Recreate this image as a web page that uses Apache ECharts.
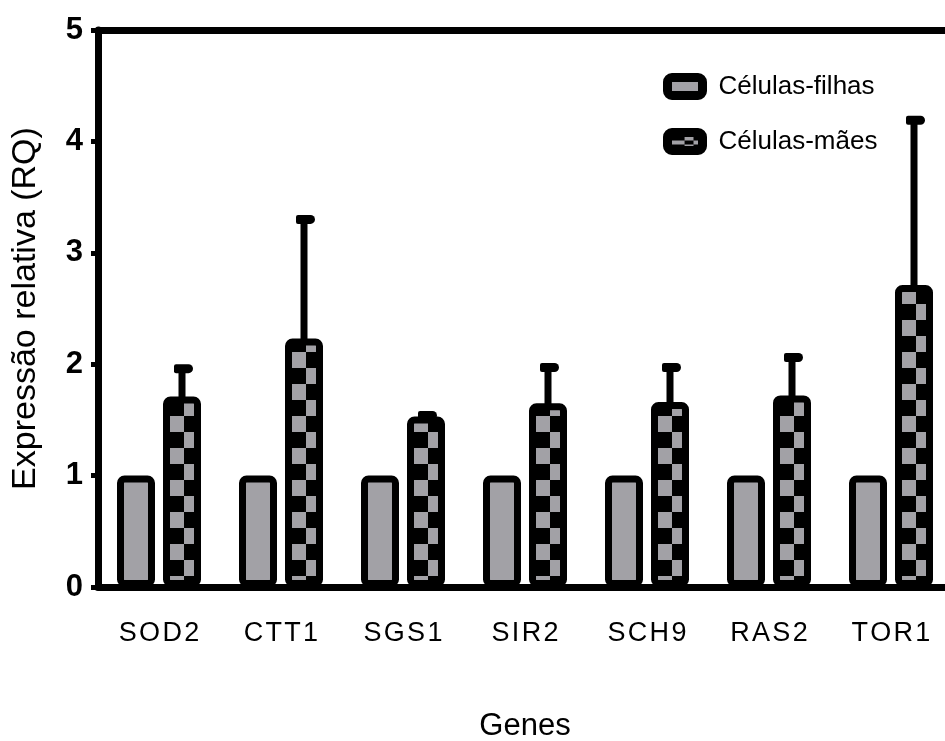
<!DOCTYPE html>
<html><head><meta charset="utf-8">
<script src="https://cdn.jsdelivr.net/npm/echarts@6/dist/echarts.min.js"></script>
<style>html,body{margin:0;padding:0;background:#fff}#c{width:945px;height:741px}</style>
</head><body><div id="c"></div>
<script>
const genes = ['SOD2','CTT1','SGS1','SIR2','SCH9','RAS2','TOR1'];
const filhas = [1,1,1,1,1,1,1];
const maes = [1.71,2.23,1.53,1.65,1.66,1.72,2.71];
const maesErr = [0.25,1.07,0.01,0.32,0.31,0.34,1.48];
const yTicks = [0,1,2,3,4,5];

const GRID_LEFT = 98, GRID_W = 854;
const BW = 38, BORDER = 7, GAP = 8;
const grey = '#a2a1a6';
const band = GRID_W / genes.length;
// pattern tile one band wide so every bar shows the same checker phase
const pc = document.createElement('canvas');
pc.width = band; pc.height = 32;
const g = pc.getContext('2d');
const bx = ((GRID_LEFT + band/2 + GAP/2) % band);
g.fillStyle = '#000'; g.fillRect(0,0,band,32);
g.fillStyle = grey;
g.fillRect(bx+BORDER, 0, 14, 16);
g.fillRect(bx+BORDER+14, 16, BW-2*BORDER-14, 16);

// small repeating swatch fill for the checkered legend icon
const lc = document.createElement('canvas');
lc.width = 26; lc.height = 8;
const lg = lc.getContext('2d');
lg.fillStyle = '#000'; lg.fillRect(0,0,26,8);
lg.fillStyle = grey;
lg.fillRect(0, 0, 17, 4);
lg.fillRect(17, 4, 9, 4);

const chart = echarts.init(document.getElementById('c'));
const FONT = 'Liberation Sans, Arial';
chart.setOption({
  animation:false,
  grid:{left:GRID_LEFT, top:30, width:GRID_W, bottom:154, outerBoundsMode:'none', containLabel:false},
  legend:{
    orient:'vertical', left:658, top:68, itemGap:28,
    itemWidth:35, itemHeight:18,
    textStyle:{fontSize:26, fontFamily:FONT, color:'#000', padding:[0,0,0,11]},
    data:[
      {name:'Células-filhas', icon:'roundRect', itemStyle:{borderWidth:9, borderColor:'#000'}},
      {name:'Células-mães', icon:'roundRect', itemStyle:{borderWidth:9, borderColor:'#000', color:{image:lc, repeat:'repeat'}}}
    ]
  },
  xAxis:[{
    type:'category', data:genes, position:'bottom',
    name:'Genes', nameLocation:'middle', nameGap:124,
    nameTextStyle:{fontSize:31, fontFamily:FONT, color:'#000'},
    axisLine:{lineStyle:{color:'#000', width:7}},
    axisTick:{show:false},
    axisLabel:{margin:33, fontSize:27, color:'#000', fontFamily:FONT,
      formatter:v=>v.split('').join('\u200A')}
  },{
    type:'category', data:genes, position:'top',
    axisLine:{lineStyle:{color:'#000', width:7}},
    axisTick:{show:false}, axisLabel:{show:false}
  }],
  yAxis:{
    type:'value', min:yTicks[0], max:yTicks[yTicks.length-1], interval:1,
    name:'Expressão relativa (RQ)', nameLocation:'middle', nameGap:55,
    nameTextStyle:{fontSize:34, fontFamily:FONT, color:'#000'},
    axisLine:{show:true, lineStyle:{color:'#000', width:7}},
    axisTick:{show:true, length:7, lineStyle:{color:'#000', width:5}},
    axisLabel:{fontSize:31, fontWeight:'bold', color:'#000', margin:15, fontFamily:FONT},
    splitLine:{show:false}
  },
  series:[
    {name:'Células-filhas', type:'bar', data:filhas, barWidth:BW, barGap:(GAP/BW*100)+'%',
     itemStyle:{color:grey, borderColor:'#000', borderWidth:BORDER, borderRadius:4}},
    {name:'Células-mães', type:'bar', data:maes, barWidth:BW, z:3,
     itemStyle:{color:{image:pc, repeat:'repeat'}, borderColor:'#000', borderWidth:BORDER, borderRadius:4}},
    {name:'err', type:'custom', z:2, data:maes.map((v,i)=>[i,v,v+maesErr[i]]),
     renderItem:function(params, api){
       const i = api.value(0);
       const off = (BW+GAP)/2;
       const p0 = api.coord([i, api.value(1)]);
       const p1 = api.coord([i, api.value(2)]);
       const x = p0[0] + off;
       return {type:'group', children:[
         {type:'rect', shape:{x:x-3.5, y:p1[1], width:7, height:p0[1]-p1[1]+4}, style:{fill:'#000'}},
         {type:'rect', shape:{x:x-8, y:p1[1]-4.5, width:19, height:9, r:[2,4.5,4.5,2]}, style:{fill:'#000'}}
       ]};
     }}
  ]
});
</script></body></html>
